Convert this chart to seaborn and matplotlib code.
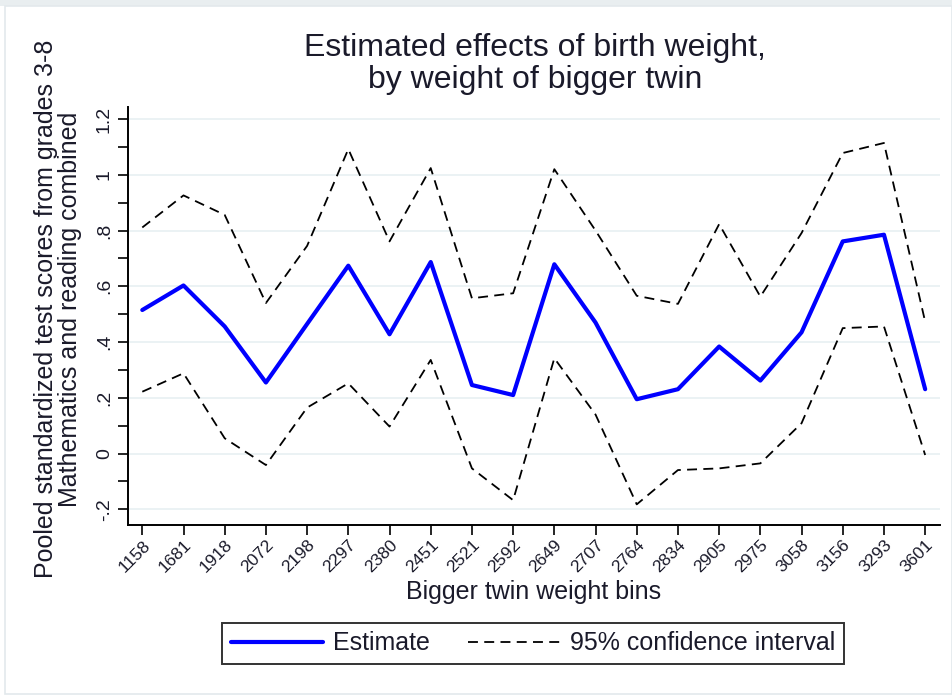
import matplotlib
matplotlib.use("Agg")
import matplotlib.pyplot as plt
from matplotlib.lines import Line2D
from matplotlib.patches import Rectangle
import seaborn as sns
import pandas as pd
import numpy as np

# Weight bins of the bigger twin (grams) and estimated effects with 95% CI
bins = ["1158", "1681", "1918", "2072", "2198", "2297", "2380", "2451", "2521", "2592",
        "2649", "2707", "2764", "2834", "2905", "2975", "3058", "3156", "3293", "3601"]
estimate = [0.515, 0.603, 0.456, 0.255, 0.465, 0.674, 0.428, 0.687, 0.246, 0.210,
            0.679, 0.470, 0.195, 0.231, 0.384, 0.262, 0.435, 0.761, 0.785, 0.231]
upper = [0.811, 0.926, 0.856, 0.540, 0.745, 1.092, 0.761, 1.024, 0.557, 0.575,
         1.020, 0.800, 0.566, 0.537, 0.823, 0.563, 0.791, 1.078, 1.114, 0.473]
lower = [0.222, 0.288, 0.055, -0.041, 0.165, 0.252, 0.097, 0.336, -0.053, -0.167,
         0.342, 0.140, -0.182, -0.059, -0.053, -0.035, 0.109, 0.450, 0.456, -0.005]
y_major = [-0.2, 0.0, 0.2, 0.4, 0.6, 0.8, 1.0, 1.2]
y_major_labels = ["-.2", "0", ".2", ".4", ".6", ".8", "1", "1.2"]
y_minor = [-0.1, 0.1, 0.3, 0.5, 0.7, 0.9, 1.1]

df = pd.DataFrame({"pos": np.arange(len(bins)), "bin": bins,
                   "estimate": estimate, "upper": upper, "lower": lower})

sns.set_theme(style="white")
plt.rcParams["font.family"] = ["Liberation Sans", "DejaVu Sans"]

fig = plt.figure(figsize=(9.52, 6.95), dpi=100)
fig.patch.set_facecolor("white")
ax = fig.add_axes([128 / 952, 1 - 525 / 695, (940 - 128) / 952, (525 - 107) / 695])
ax.set_facecolor("white")

grid_c = "#e6eff1"
for v in y_major:
    ax.axhline(v, color=grid_c, lw=1.1, zorder=0)

dash_kw = dict(color="black", lw=1.3, dashes=(5.5, 3.5))
sns.lineplot(data=df, x="pos", y="upper", ax=ax, sort=False, **dash_kw)
sns.lineplot(data=df, x="pos", y="lower", ax=ax, sort=False, **dash_kw)
sns.lineplot(data=df, x="pos", y="estimate", ax=ax, sort=False, color="#0000ff", lw=3.0)

ax.set_xlim(-0.347, 19.36)
ax.set_ylim(-0.256, 1.243)

ax.set_xticks(df["pos"])
ax.set_xticklabels(bins, rotation=45, ha="right", rotation_mode="anchor", fontsize=12.5,
                   color="#1a1a2a")
ax.set_yticks(y_major)
ax.set_yticklabels(y_major_labels, rotation=90, va="center", ha="center", fontsize=14,
                   color="#1a1a2a")
ax.set_yticks(y_minor, minor=True)

ax.tick_params(axis="both", which="both", direction="out", length=7, width=1.2,
               color="black", left=True, bottom=True)
ax.tick_params(axis="y", which="major", pad=10)
ax.tick_params(axis="x", which="major", pad=2)

for side in ["top", "right"]:
    ax.spines[side].set_visible(False)
for side in ["left", "bottom"]:
    ax.spines[side].set_color("black")
    ax.spines[side].set_linewidth(1.4)

ax.set_xlabel("")
ax.set_ylabel("")

fig.text(535 / 952, 1 - 64 / 695, "Estimated effects of birth weight,\nby weight of bigger twin",
         ha="center", va="center", fontsize=23, linespacing=1.05, color="#1a1a2a")
fig.text(58 / 952, 1 - 309 / 695,
         "Pooled standardized test scores from grades 3-8\nMathematics and reading combined",
         ha="center", va="center", rotation=90, fontsize=18, linespacing=1.0,
         multialignment="center", color="#1a1a2a")
fig.text(534 / 952, 1 - 592 / 695, "Bigger twin weight bins", ha="center", va="center",
         fontsize=18, color="#1a1a2a")

handles = [Line2D([], [], color="#0000ff", lw=3.0),
           Line2D([], [], color="black", lw=1.3, dashes=(5.5, 3.5))]
leg = fig.legend(handles, ["Estimate", "95% confidence interval"], loc="center",
                 bbox_to_anchor=(533 / 952, 1 - 643.5 / 695), ncol=2, fontsize=18,
                 frameon=True, fancybox=False, handlelength=3.7, handletextpad=0.4,
                 columnspacing=1.5, borderpad=0.35)
leg.get_frame().set_edgecolor("black")
leg.get_frame().set_linewidth(1.4)
for t in leg.get_texts():
    t.set_color("#1a1a2a")

# light outer frame and top band
fig.patches.append(Rectangle((0, 1 - 6 / 695), 1, 6 / 695, transform=fig.transFigure,
                             facecolor="#e9eef0", edgecolor="none", zorder=-1))
fig.patches.append(Rectangle((5 / 952, 0.002), 1 - 5 / 952, 1 - 6 / 695 - 0.002,
                             transform=fig.transFigure, facecolor="none",
                             edgecolor="#e3e9ec", lw=1.2, zorder=-1))

fig.savefig("out.png", dpi=100)
